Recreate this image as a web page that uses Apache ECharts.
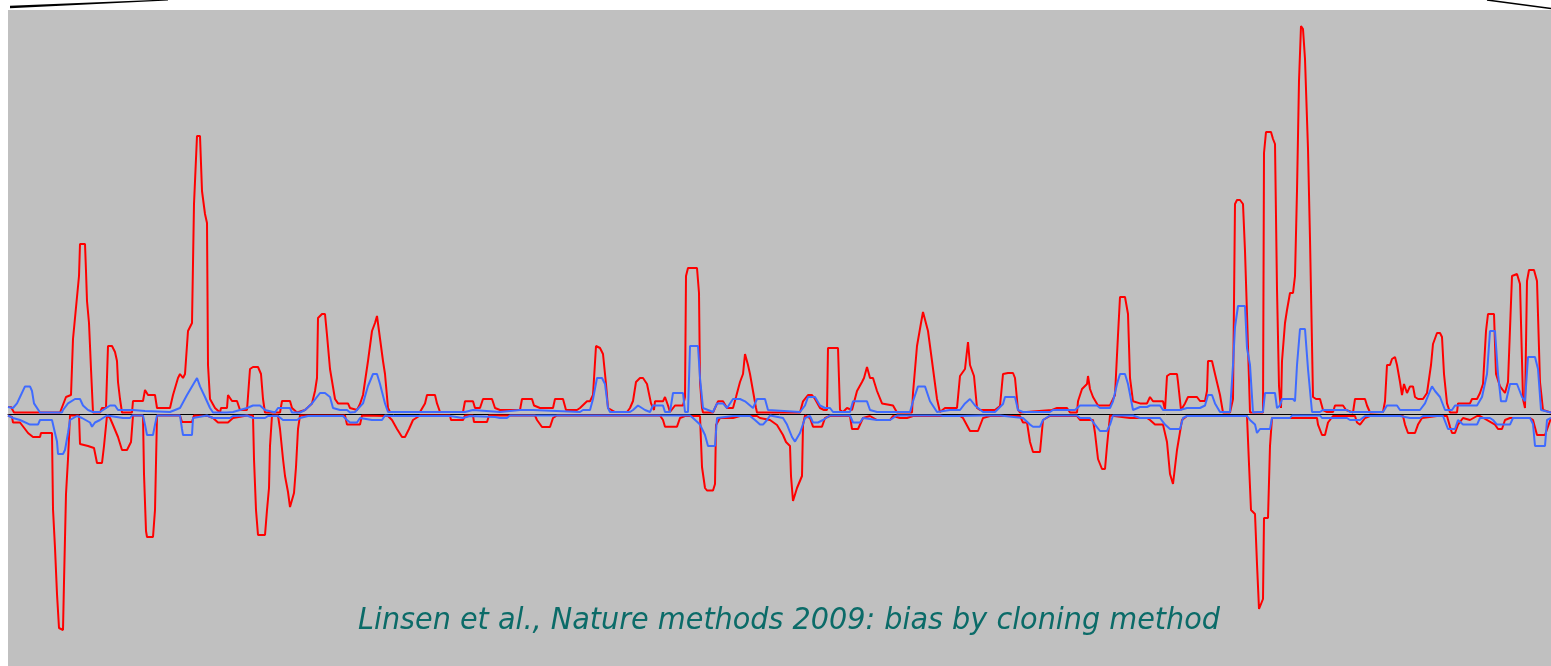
<!DOCTYPE html>
<html>
<head>
<meta charset="utf-8">
<script src="https://cdn.jsdelivr.net/npm/echarts@6/dist/echarts.min.js"></script>
<style>
html,body{margin:0;padding:0;background:#fff;}
#chart{width:1551px;height:666px;}
</style>
</head>
<body>
<div id="chart"></div>
<script>
// Title text
const titleText = 'Linsen et al., Nature methods 2009: bias by cloning method';

// Position axis range and value axis range
const positionRange = [8, 1551];
const valueRange = [-252, 404];

// Red, positive strand [position, value]
const redUp = [
[8,7],[11,7],[14,1.5],[60,1.5],[66,17],[71,19],[73,75],[77,117],[79,138],[80,170],[85,170],[86,143],[87,113],[89,91],[91,45],[93,1.5],
[100,1.5],[102,6],[106,6],[108,68],[112,68],[115,62],[117,53],[118,32],[120,15],[122,1.5],
[132,1.5],[133,13],[143,13],[145,24],[148,19],[155,19],[157,6],[170,6],[173,19],[178,36],[180,40],[183,36],[185,40],[188,83],[192,91],[194,210],[197,278],[200,278],[202,223],[205,200],[207,191],[208,49],[210,15],[215,6],[220,1.5],
[221,6],[227,6],[228,19],[232,13],[237,13],[240,4],[247,4],[250,45],[253,47],[258,47],[261,40],[263,15],[265,1.5],
[280,1.5],[282,13],[290,13],[292,6],[297,1.5],[305,4],[312,10.6],[315,23],[317,36],[318,96],[320,96],[322,100],[325,100],[327,79],[330,45],[335,15],[338,10.6],[348,10.6],[350,6],[357,4],[360,10],[363,19],[368,53],[372,83],[375,91],[377,98],[379,83],[383,53],[385,40],[388,6],[390,2],
[420,2],[425,10.6],[427,19],[435,19],[437,10.6],[440,2],
[463,2],[465,12.7],[473,12.7],[475,6],[480,6],[483,15],[492,15],[495,6],[500,4],[520,4],[522,15],[532,15],[534,8.5],[540,6],[553,6],[555,15],[563,15],[566,4],[577,4],[580,6],[587,12.7],[590,12.7],[593,19],[596,68],[600,66],[603,60],[606,30],[608,6],[615,2],
[627,2],[630,6],[633,13],[636,32],[640,36],[643,36],[647,30],[651,10.6],[654,4],[655,12.7],[663,12.7],[665,17],[668,8.5],[670,2],[675,8.5],[683,8.5],[685,17],[686,138],[688,146],[697,146],[699,121],[700,32],[702,6],[703,1.5],
[713,1.5],[715,6],[718,12.7],[723,12.7],[727,6],[733,6],[736,17],[740,32],[743,40],[745,60],[748,49],[750,40],[753,23],[756,6],[757,1.5],
[800,1.5],[803,12.7],[808,19],[812,19],[815,15],[820,6],[824,4],[827,4],[828,66],[838,66],[840,4],[843,2],[847,6],[852,4],[857,23],[862,32],[864,36],[867,47],[870,36],[873,36],[877,23],[882,10.6],[893,8.5],[897,1.5],
[912,1.5],[913,21],[917,68],[921,91],[923,102],[925,102],[928,83],[932,53],[937,15],[940,2],
[945,6],[957,6],[960,38],[965,45],[968,72],[970,49],[974,38],[977,6],[980,4],[995,4],[1000,8],[1003,40],[1008,41],[1013,41],[1015,36],[1018,4],[1020,1.5],
[1052,4],[1057,6],[1067,6],[1070,1.5],[1077,1.5],[1078,12.7],[1082,25],[1087,30],[1088,38],[1090,25],[1093,17],[1098,8.5],[1110,8.5],[1112,12.7],[1115,19],[1118,79],[1120,117],[1125,117],[1128,100],[1130,36],[1133,12.7],[1140,10.6],[1147,10.6],[1150,17],[1153,12.7],[1163,12.7],[1165,4],[1167,38],[1170,40],[1177,40],[1178,32],[1181,4],[1185,10.6],[1188,17],[1197,17],[1200,13],[1205,13],[1207,23],[1208,53],[1212,53],[1215,40],[1220,19],[1223,1.5],[1230,1.5],[1233,15],[1235,210],[1237,214],[1240,214],[1243,210],[1245,163],[1247,100],[1250,1.5],
[1263,1.5],[1264,261],[1266,282],[1271,282],[1273,275],[1275,270],[1277,125],[1279,28],[1280,15],[1281,6],[1282,53],[1285,91],[1287,104],[1290,121],[1293,121],[1295,138],[1297,223],[1299,333],[1301,388],[1303,385],[1305,355],[1308,265],[1310,175],[1313,17],[1316,15],[1320,15],[1323,4],[1327,2],[1333,2],[1335,8.5],[1343,8.5],[1346,4],[1353,1.5],[1355,15],[1365,15],[1367,8.5],[1370,1.5],[1383,2],[1385,12.7],[1387,49],[1390,49],[1392,55],[1395,57],[1397,49],[1400,32],[1402,19],[1404,30],[1406,30],[1407,21],[1410,27.6],[1413,27.6],[1415,17],[1418,15],[1423,15],[1427,21],[1431,49],[1433,70],[1437,81],[1440,81],[1442,77],[1444,40],[1447,10.6],[1450,1.5],[1457,1.5],[1458,10.6],[1470,10.6],[1472,15],[1477,15],[1480,21],[1483,30],[1486,83],[1488,100],[1494,100],[1496,40],[1500,27.6],[1505,21],[1508,32],[1512,138],[1514,140],[1517,140],[1520,130],[1523,15],[1525,6],[1527,133],[1529,144],[1534,144],[1537,133],[1540,32],[1543,4],[1551,1.5]
];

// Red, negative strand
const redDown = [
[8,-1.5],[12,-3],[13,-8.5],[20,-8.5],[25,-15],[28,-19],[33,-23],[40,-23],[41,-19],[52,-19],[53,-95],[55,-134],[57,-180],[59,-214],[60,-216],[63,-216],[64,-168],[66,-80],[68,-45],[70,-1.5],
[79,-1.5],[80,-30],[88,-32],[94,-34],[95,-36],[97,-49],[102,-49],[104,-32],[107,-1.5],
[110,-4],[113,-11],[118,-23],[122,-36],[127,-36],[129,-38],[131,-28],[133,-1.5],
[143,-1.5],[144,-60],[146,-117],[147,-123],[153,-123],[155,-96],[157,-1.5],
[180,-1.5],[182,-8],[192,-8],[194,-1.5],
[208,-2],[213,-4],[218,-8.5],[228,-8.5],[233,-4],[247,-1.5],
[253,-1.5],[254,-45],[256,-96],[258,-121],[265,-121],[267,-96],[269,-74],[270,-32],[272,-1.5],
[278,-1.5],[280,-15],[283,-45],[285,-62],[288,-78],[290,-93],[292,-93],[294,-79],[296,-53],[298,-15],[300,-1.5],
[345,-1.5],[347,-10.6],[360,-10.6],[362,-1.5],
[388,-2],[392,-6],[397,-15],[402,-23],[405,-23],[409,-15],[413,-6],[420,-1.5],
[450,-1.5],[451,-6],[463,-6],[465,-1.5],[473,-1.5],[474,-8],[487,-8],[489,-1.5],
[535,-1.5],[537,-6],[542,-13],[550,-13],[553,-4],[557,-1.5],
[660,-1.5],[663,-6],[665,-12.7],[677,-12.7],[680,-4],[685,-2],[700,-2],[702,-53],[705,-74],[707,-76.5],[713,-76.5],[715,-70],[716,-11],[720,-4],[733,-4],[740,-2],[757,-2],
[760,-4],[770,-6],[777,-11],[783,-21],[786,-28],[790,-32],[791,-62],[793,-87],[797,-74],[802,-62],[803,-11],[805,-1.5],[810,-4],[813,-12.7],[822,-12.7],[825,-4],[830,-2],[850,-2],[852,-15],[858,-15],[863,-4],[870,-2],[877,-6],[890,-6],[893,-2],[900,-4],[907,-4],[913,-2],[960,-2],[963,-4],[970,-17],[978,-17],[983,-4],[990,-2],
[1020,-2],[1023,-8.5],[1027,-8.5],[1030,-28],[1033,-38],[1040,-38],[1043,-6],[1050,-2],[1077,-2],[1080,-6],[1093,-6],[1095,-19],[1098,-45],[1100,-50],[1102,-55],[1105,-55],[1107,-32],[1110,-1.5],[1130,-4],[1147,-4],[1150,-6],[1155,-10.6],[1163,-10.6],[1167,-28],[1170,-60],[1173,-70],[1175,-70],[1177,-36],[1182,-6],[1187,-2],
[1247,-2],[1249,-50],[1251,-96],[1255,-100],[1257,-150],[1259,-195],[1261,-195],[1263,-185],[1264,-104],[1268,-104],[1270,-32],[1272,-4],
[1317,-4],[1318,-10.6],[1322,-21],[1325,-21],[1328,-8.5],[1333,-2],[1355,-2],[1357,-8.5],[1360,-10.6],[1365,-4],[1370,-2],[1403,-2],[1405,-10.6],[1408,-19],[1415,-19],[1418,-10.6],[1422,-4],[1437,-2],[1447,-2],[1450,-12.7],[1452,-19],[1455,-19],[1458,-10.6],[1463,-4],[1470,-6],[1477,-2],[1480,-2],[1495,-10.6],[1498,-15],[1502,-15],[1505,-6],[1510,-4],[1530,-4],[1533,-6],[1537,-21],[1545,-21],[1548,-12.7],[1551,-4]
];

// Blue, positive strand
const blueUp = [
[8,7],[13,6],[17,10.6],[20,17],[25,27.6],[30,27.6],[32,23],[34,10.6],[40,1.5],[62,1.5],[63,4],[68,10.6],[75,15],[80,15],[83,8.5],[88,4],[93,2],[100,2],[110,8.5],[115,8.5],[118,4],[133,4],[145,3],[170,2],[180,6],[187,19],[192,27.6],[197,36],[200,27.6],[205,17],[210,6],[213,1.5],[227,1.5],[233,2],[240,4],[247,6],[253,8.5],[260,8.5],[265,4],[275,1.5],[278,6],[290,6],[292,1.5],[300,1.5],[305,4],[312,10.6],[320,21],[325,21],[330,17],[333,6],[340,4],[347,4],[350,1.5],[355,2],[363,10.6],[368,28],[373,40],[377,40],[380,30],[385,10.6],[388,2],[393,2],
[465,2],[467,4],[473,4],[475,2],[500,2],[520,4],[533,4],[535,2],[580,2],[583,4],[590,4],[593,15],[597,36],[602,36],[605,30],[608,6],[610,2],[630,2],[633,4],[638,8.5],[645,4],[650,2],[653,8.5],[663,8.5],[665,2],[670,2],[673,21],[683,21],[685,2],[688,2],[690,68],[698,68],[700,36],[703,6],[713,2],[717,10.6],[723,10.6],[727,6],[733,15],[740,15],[745,12.7],[753,6],[757,15],[765,15],[768,4],[800,2],[805,8.5],[808,17],[815,17],[820,8.5],[825,6],[830,6],[833,2],[850,2],[853,12.7],[867,12.7],[870,4],[877,2],[910,2],[913,12.7],[918,27.6],[925,27.6],[930,12.7],[937,2],[950,4],[960,4],[965,10.6],[970,15],[975,8.5],[983,2],[995,2],[1003,10],[1005,17],[1015,17],[1018,4],[1023,2],[1050,2],[1053,4],[1075,4],[1080,8.5],[1097,8.5],[1100,6],[1110,6],[1113,12.7],[1117,30],[1120,40],[1125,40],[1128,30],[1133,4],[1140,7],[1147,7],[1150,8.5],[1160,8.5],[1163,4],[1180,4],[1187,6],[1200,6],[1205,8.5],[1208,19],[1212,19],[1215,10.6],[1220,2],[1230,2],[1233,49],[1235,87],[1238,108],[1245,108],[1247,66],[1250,49],[1253,1.5],
[1258,2],[1263,2],[1265,21],[1275,21],[1277,6],[1280,8.5],[1282,15],[1293,15],[1295,12.7],[1297,49],[1300,85],[1305,85],[1308,45],[1312,2],[1320,2],[1323,4],[1347,4],[1350,2],[1383,2],[1387,8.5],[1397,8.5],[1400,4],[1420,4],[1425,10.6],[1430,23],[1432,27.6],[1435,23],[1440,17],[1445,4],[1452,4],[1455,8.5],[1477,8.5],[1482,17],[1487,40],[1490,83],[1495,83],[1498,40],[1501,12.7],[1506,12.7],[1510,30],[1517,30],[1522,17],[1525,12.7],[1528,57],[1535,57],[1538,45],[1541,4],[1551,1.5]
];

// Blue, negative strand
const blueDown = [
[8,-1.5],[13,-4],[20,-6],[30,-10.6],[38,-10.6],[40,-6],[52,-6],[55,-19],[57,-27.6],[58,-40],[63,-40],[65,-36],[68,-19],[70,-6],[77,-2],[82,-4],[90,-8.5],[92,-12.7],[95,-8.5],[100,-6],[103,-4],[107,-1.5],[123,-4],[130,-4],[132,-1.5],[143,-1.5],[145,-10.6],[147,-21],[153,-21],[155,-10.6],[157,-1.5],[180,-1.5],[182,-15],[183,-21],[192,-21],[193,-4],[207,-1.5],[213,-4],[230,-4],[233,-2],[247,-1.5],[253,-4],[265,-4],[268,-2],[278,-2],[283,-6],[297,-6],[300,-4],[308,-2],[343,-2],[347,-6],[350,-8.5],[357,-8.5],[360,-4],[372,-6],[382,-6],[385,-1.5],[390,-2],[450,-2],[452,-4],[463,-4],[470,-2],[495,-3],[500,-4],[507,-4],[510,-1.5],[690,-1.5],[693,-4],[700,-10.6],[705,-21],[708,-32],[715,-32],[717,-4],[733,-2],[750,-2],[755,-6],[760,-10.6],[763,-10.6],[767,-6],[770,-1.5],[783,-4],[787,-10.6],[792,-23],[795,-27.6],[800,-19],[805,-4],[810,-2],[813,-8.5],[818,-8.5],[823,-6],[830,-1.5],[850,-1.5],[853,-8.5],[860,-8.5],[863,-4],[877,-6],[890,-6],[897,-1.5],[940,-1.5],[943,-2],[957,-2],[983,-1.5],[1000,-1.5],[1023,-4],[1030,-10.6],[1033,-12.7],[1040,-12.7],[1043,-6],[1050,-1.5],[1077,-1.5],[1080,-4],[1090,-4],[1095,-10.6],[1100,-17],[1107,-17],[1110,-10.6],[1113,-1.5],[1133,-1.5],[1140,-4],[1160,-4],[1165,-10.6],[1170,-15],[1180,-15],[1183,-4],[1187,-2],[1247,-2],[1250,-6],[1255,-10.6],[1257,-19],[1260,-15],[1270,-15],[1272,-4],[1290,-4],[1292,-1.5],[1320,-1.5],[1322,-4],[1347,-4],[1350,-6],[1360,-6],[1365,-2],[1400,-2],[1410,-4],[1420,-4],[1423,-2],[1443,-2],[1448,-15],[1455,-15],[1458,-6],[1463,-10.6],[1477,-10.6],[1480,-4],[1490,-4],[1493,-6],[1497,-10.6],[1510,-10.6],[1513,-4],[1530,-4],[1533,-10],[1535,-32],[1545,-32],[1547,-6],[1551,-4]
];

const RED = '#FF0000';
const BLUE = '#3F6BFF';

const chart = echarts.init(document.getElementById('chart'), null, {renderer: 'canvas'});

// measure title to fit its width in the reference
const titleFont = 'italic 30px "DejaVu Sans"';
const cv = document.createElement('canvas').getContext('2d');
cv.font = titleFont;
const tw = cv.measureText(titleText).width;
const targetW = 862;
const sx = targetW / tw;

function lineSeries(data, color, z) {
  return {
    type: 'line', data: data, showSymbol: false, symbol: 'none',
    lineStyle: {color: color, width: 2}, z: z, silent: true,
    animation: false
  };
}

chart.setOption({
  animation: false,
  backgroundColor: '#FFFFFF',
  grid: {left: 8, right: 0, top: 10, bottom: 0, show: true, backgroundColor: '#C0C0C0', borderWidth: 0, containLabel: false},
  xAxis: {
    type: 'value', min: positionRange[0], max: positionRange[1],
    axisLine: {show: true, onZero: true, lineStyle: {color: '#000000', width: 1}},
    axisTick: {show: false}, axisLabel: {show: false}, splitLine: {show: false}
  },
  yAxis: {
    type: 'value', min: valueRange[0], max: valueRange[1], show: false,
    splitLine: {show: false}
  },
  series: [
    lineSeries(redUp, RED, 2),
    lineSeries(redDown, RED, 2),
    lineSeries(blueUp, BLUE, 3),
    lineSeries(blueDown, BLUE, 3)
  ],
  graphic: [
    {type: 'polygon', shape: {points: [[10,5.8],[168,-0.6],[168,0.4],[10,8.2]]}, style: {fill: '#000000'}, z: 10},
    {type: 'line', shape: {x1: 1487, y1: 0, x2: 1551, y2: 8.5}, style: {stroke: '#000000', lineWidth: 1.5}, z: 10},
    {type: 'text', x: 358, y: 606, scaleX: sx, scaleY: 1, originX: 0, originY: 0, z: 10,
      style: {text: titleText, font: titleFont, fill: '#0B6B68', textAlign: 'left', textVerticalAlign: 'top'}}
  ]
});
</script>
</body>
</html>
